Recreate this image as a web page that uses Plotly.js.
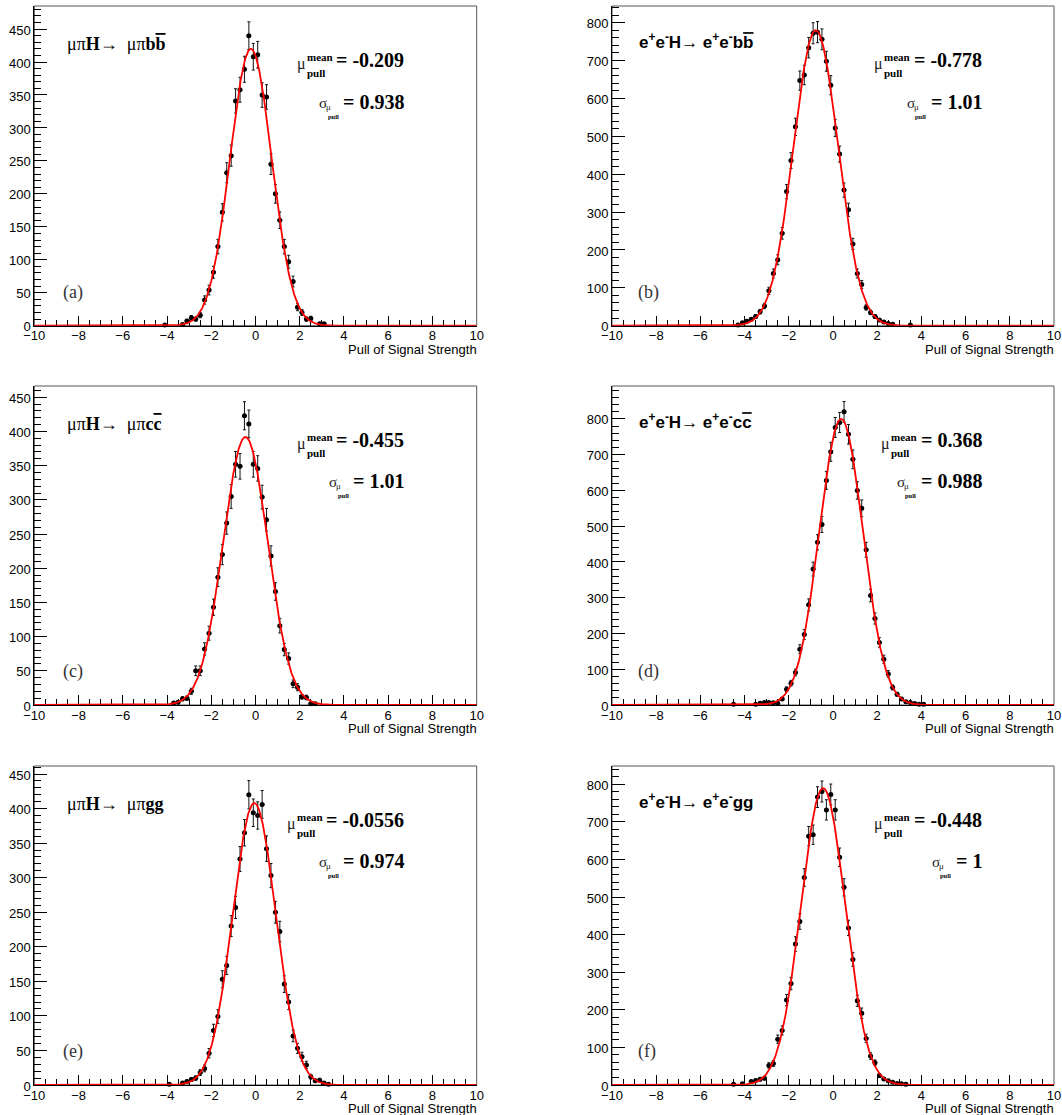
<!DOCTYPE html>
<html>
<head>
<meta charset="utf-8">
<script src="https://cdn.plot.ly/plotly-3.0.1.min.js"></script>
<style>
  html, body { margin: 0; padding: 0; background: #fff; }
  #chart { width: 1062px; height: 1115px; }
</style>
</head>
<body>
<div id="chart"></div>
<script>
// ---------------- DATA ----------------
// Histogram bin centres (bin width 0.2) and bin contents per panel
const xA = [-4.1,-3.3,-3.1,-2.9,-2.7,-2.5,-2.3,-2.1,-1.9,-1.7,-1.5,-1.3,-1.1,-0.9,-0.7,-0.5,-0.3,-0.1,0.1,0.3,0.5,0.7,0.9,1.1,1.3,1.5,1.7,1.9,2.1,2.3,2.5,2.9,3.1];
const yA = [1,2,7,12,10,16,39,54,81,120,172,232,258,341,358,389,440,408,411,350,347,245,200,160,120,97,67,28,20,10,11,3,3];

const xB = [-4.3,-4.1,-3.9,-3.7,-3.5,-3.3,-3.1,-2.9,-2.7,-2.5,-2.3,-2.1,-1.9,-1.7,-1.5,-1.3,-1.1,-0.9,-0.7,-0.5,-0.3,-0.1,0.1,0.3,0.5,0.7,0.9,1.1,1.3,1.5,1.7,1.9,2.1,2.3,2.5,2.7,3.5];
const yB = [2,8,12,17,24,37,52,92,138,174,244,354,436,525,647,662,734,772,775,756,698,635,522,453,358,306,216,138,109,48,35,24,15,10,6,4,2];

const xC = [-3.7,-3.5,-3.3,-3.1,-2.9,-2.7,-2.5,-2.3,-2.1,-1.9,-1.7,-1.5,-1.3,-1.1,-0.9,-0.7,-0.5,-0.3,-0.1,0.1,0.3,0.5,0.7,0.9,1.1,1.3,1.5,1.7,1.9,2.1,2.3,2.5,2.7];
const yC = [3,4,9,10,20,50,50,82,105,143,187,220,266,305,352,349,423,411,352,346,304,271,218,166,116,81,68,31,26,12,11,2,2];

const xD = [-4.5,-3.5,-3.3,-3.1,-2.9,-2.7,-2.5,-2.3,-2.1,-1.9,-1.7,-1.5,-1.3,-1.1,-0.9,-0.7,-0.5,-0.3,-0.1,0.1,0.3,0.5,0.7,0.9,1.1,1.3,1.5,1.7,1.9,2.1,2.3,2.5,2.7,2.9,3.1,3.3,3.5,3.7,3.9,4.1];
const yD = [2,2,5,7,7,6,5,17,44,61,91,156,197,280,380,455,505,628,708,776,790,820,757,687,600,550,434,306,242,175,128,87,49,30,17,9,7,4,2,2];

const xE = [-3.9,-3.3,-3.1,-2.9,-2.7,-2.5,-2.3,-2.1,-1.9,-1.7,-1.5,-1.3,-1.1,-0.9,-0.7,-0.5,-0.3,-0.1,0.1,0.3,0.5,0.7,0.9,1.1,1.3,1.5,1.7,1.9,2.1,2.3,2.5,2.7,2.9,3.1,3.3];
const yE = [1,3,5,8,10,18,24,46,79,99,153,173,230,257,327,365,420,394,390,406,342,303,250,222,146,120,71,53,41,29,12,6,7,3,1];

const xF = [-4.5,-4.1,-3.7,-3.5,-3.3,-3.1,-2.9,-2.7,-2.5,-2.3,-2.1,-1.9,-1.7,-1.5,-1.3,-1.1,-0.9,-0.7,-0.5,-0.3,-0.1,0.1,0.3,0.5,0.7,0.9,1.1,1.3,1.5,1.7,1.9,2.1,2.3,2.5,2.7,2.9,3.1,3.3];
const yF = [2,3,9,12,15,18,52,57,122,145,226,270,375,435,552,662,666,766,781,732,773,732,606,526,418,334,224,191,124,77,59,25,16,11,7,4,3,2];

const fitAmplitude = [420, 780, 392, 800, 408, 790];
const fitMean      = [-0.209, -0.778, -0.455, 0.368, -0.0556, -0.448];
const fitSigma     = [0.938, 1.01, 1.01, 0.988, 0.974, 1];

// Text
const meanText  = ['-0.209', '-0.778', '-0.455', '0.368', '-0.0556', '-0.448'];
const sigmaText = ['0.938', '1.01', '1.01', '0.988', '0.974', '1'];
const panelLabels = ['(a)', '(b)', '(c)', '(d)', '(e)', '(f)'];
const OL = s => '<span style="text-decoration:overline">' + s + '</span>';
const processTitles = [
  'μπ<b>H</b>→\u00a0\u00a0μπ<b>b' + OL('b') + '</b>',
  '<b>e<sup>+</sup>e<sup>-</sup>H→ e<sup>+</sup>e<sup>-</sup>b' + OL('b') + '</b>',
  'μπ<b>H</b>→\u00a0\u00a0μπ<b>c' + OL('c') + '</b>',
  '<b>e<sup>+</sup>e<sup>-</sup>H→ e<sup>+</sup>e<sup>-</sup>c' + OL('c') + '</b>',
  'μπ<b>H</b>→\u00a0\u00a0μπ<b>gg</b>',
  '<b>e<sup>+</sup>e<sup>-</sup>H→ e<sup>+</sup>e<sup>-</sup>gg</b>'
];
const xAxisTitle = 'Pull of Signal Strength';
const yMax   = [485, 844, 466.5, 892, 461.6, 848.8];
const yDtick = [50, 100, 50, 100, 50, 100];
const yMinor = [10, 20, 10, 20, 10, 20];

const xs = [xA, xB, xC, xD, xE, xF];
const ys = [yA, yB, yC, yD, yE, yF];

// ---------------- LAYOUT GEOMETRY ----------------
const W = 1062, H = 1115;
const colPx = [[34.3, 476.7], [612, 1054]];
const rowPx = [[6, 325.7], [386, 705], [766, 1085]];
const FW = 442.4, FH = 319.5;
const SERIF = '"Liberation Serif", "Times New Roman", serif';
const SANS = '"Liberation Sans", Arial, Helvetica, sans-serif';

const cv = document.createElement('canvas').getContext('2d');
function textW(str, font) { cv.font = font; return cv.measureText(str).width; }

const data = [];
const layout = {
  width: W, height: H,
  margin: {l: 0, r: 0, t: 0, b: 0},
  paper_bgcolor: '#fff', plot_bgcolor: '#fff',
  showlegend: false,
  hovermode: false,
  annotations: [],
  shapes: []
};

// fit-curve x grid
const curveX = [];
for (let k = 0; k <= 1000; k++) curveX.push(-10 + k * 0.02);

for (let i = 0; i < 6; i++) {
  const n = i === 0 ? '' : String(i + 1);
  const col = i % 2, row = Math.floor(i / 2);
  const xd = [colPx[col][0] / W, colPx[col][1] / W];
  const yd = [1 - rowPx[row][1] / H, 1 - rowPx[row][0] / H];

  layout['xaxis' + n] = {
    domain: xd, anchor: 'y' + n, range: [-10, 10],
    tickmode: 'linear', tick0: -10, dtick: 2,
    ticks: 'inside', ticklen: 10, tickwidth: 1, tickcolor: '#000',
    minor: {dtick: 0.5, tick0: -10, ticks: 'inside', ticklen: 6, tickwidth: 1, tickcolor: '#000', showgrid: false},
    showgrid: false, zeroline: false,
    showline: true, linecolor: '#000', linewidth: 1,
    tickfont: {family: SANS, size: 13, color: '#000'},
    ticklabelstandoff: -2,
    layer: 'below traces', fixedrange: true
  };
  layout['yaxis' + n] = {
    domain: yd, anchor: 'x' + n, range: [0, yMax[i]],
    tickmode: 'linear', tick0: 0, dtick: yDtick[i],
    ticks: 'inside', ticklen: 13, tickwidth: 1, tickcolor: '#000',
    minor: {dtick: yMinor[i], tick0: 0, ticks: 'inside', ticklen: 7, tickwidth: 1, tickcolor: '#000', showgrid: false},
    showgrid: false, zeroline: false,
    showline: true, linecolor: '#000', linewidth: 1,
    tickfont: {family: SANS, size: 13, color: '#000'},
    ticklabelshift: 1,
    layer: 'below traces', fixedrange: true
  };

  // frame
  layout.shapes.push({
    type: 'rect', xref: 'x' + n + ' domain', yref: 'y' + n + ' domain',
    x0: 0, x1: 1, y0: 0, y1: 1, line: {color: '#555', width: 1}, layer: 'below'
  });

  // histogram points
  data.push({
    type: 'scatter', mode: 'markers', xaxis: 'x' + n, yaxis: 'y' + n,
    x: xs[i], y: ys[i],
    marker: {color: '#000', size: 5, symbol: 'circle'},
    error_y: {type: 'data', array: ys[i].map(v => Math.sqrt(v)), visible: true, color: '#111', thickness: 1, width: 1.5},
    error_x: {type: 'constant', value: 0.1, visible: true, color: '#000', thickness: 1.5, width: 0},
    cliponaxis: false
  });

  // Gaussian fit
  data.push({
    type: 'scatter', mode: 'lines', xaxis: 'x' + n, yaxis: 'y' + n,
    x: curveX,
    y: curveX.map(x => fitAmplitude[i] * Math.exp(-0.5 * Math.pow((x - fitMean[i]) / fitSigma[i], 2))),
    line: {color: '#ff0000', width: 1.8},
    cliponaxis: true
  });

  const A = (relx, rely, text, font, xanchor, yanchor) => ({
    xref: 'x' + n + ' domain', yref: 'y' + n + ' domain',
    x: relx / FW, y: 1 - rely / FH, text: text, font: font,
    xanchor: xanchor, yanchor: yanchor || 'middle',
    showarrow: false, align: 'left', borderpad: 0, borderwidth: 0
  });

  // process title
  if (col === 0) {
    layout.annotations.push(A(33, 38, processTitles[i], {family: SERIF, size: 18, color: '#000'}, 'left'));
  } else {
    layout.annotations.push(A(27, 35, processTitles[i], {family: SANS, size: 17, color: '#000'}, 'left'));
  }
  // panel label
  layout.annotations.push(A(col === 0 ? 29 : 26, 286, panelLabels[i], {family: SERIF, size: 18, color: '#333'}, 'left'));

  // x axis title
  layout.annotations.push(A(FW, FH + 24, xAxisTitle, {family: SANS, size: 13, color: '#000'}, 'right'));

  // statistics block (right aligned)
  const vFont = {family: SERIF, size: 20, color: '#000'};
  const vCss = 'bold 20px "Liberation Serif"';
  const rightEdge = 370;
  const v1 = '<b>= ' + meanText[i] + '</b>';
  const v2 = '<b>= ' + sigmaText[i] + '</b>';
  const w1 = textW('= ' + meanText[i], vCss);
  const w2 = textW('= ' + sigmaText[i], vCss);
  const vx1 = rightEdge - w1, vx2 = rightEdge - w2;
  layout.annotations.push(A(rightEdge, 54, v1, vFont, 'right'));
  layout.annotations.push(A(rightEdge, 95.5, v2, vFont, 'right'));
  const smallBold = {family: SERIF, size: 11, color: '#000'};
  const meanW = textW('mean', 'bold 11px "Liberation Serif"');
  const meanLeft = vx1 - 4 - meanW;
  layout.annotations.push(A(meanLeft, 51, '<b>mean</b>', smallBold, 'left'));
  layout.annotations.push(A(meanLeft, 67, '<b>pull</b>', smallBold, 'left'));
  layout.annotations.push(A(meanLeft - 1, 58, 'μ', {family: SERIF, size: 16, color: '#222'}, 'right'));
  // sigma line
  layout.annotations.push(A(vx2 - 15.5, 96.5, 'σ', {family: SERIF, size: 15, color: '#222'}, 'right'));
  layout.annotations.push(A(vx2 - 16.5, 100.5, 'μ', {family: SERIF, size: 9, color: '#222'}, 'left'));
  layout.annotations.push(A(vx2 - 4, 110, '<b>pull</b>', {family: SERIF, size: 6.5, color: '#000'}, 'right'));
}

Plotly.newPlot('chart', data, layout, {staticPlot: true, displayModeBar: false});
</script>
</body>
</html>
